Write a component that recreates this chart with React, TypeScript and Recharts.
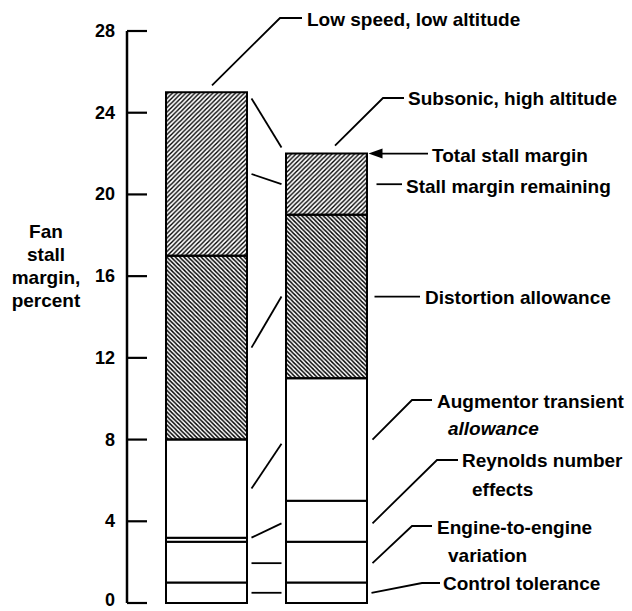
import React from "react";
import { BarChart, Bar, XAxis, YAxis } from "recharts";

const categories = ["Low speed, low altitude", "Subsonic, high altitude"];
const controlTolerance = [1, 1];
const engineVariation = [2, 2];
const reynoldsEffects = [0.2, 2];
const augmentorAllowance = [4.8, 6];
const distortionAllowance = [9, 8];
const stallMarginRemaining = [8, 3];
const yTicks = [0, 4, 8, 12, 16, 20, 24, 28];

const data = categories.map((c, i) => ({
  name: c,
  control: controlTolerance[i],
  engine: engineVariation[i],
  reynolds: reynoldsEffects[i],
  augmentor: augmentorAllowance[i],
  distortion: distortionAllowance[i],
  remaining: stallMarginRemaining[i],
}));

const W = 632;
const H = 611;
const TOP = 31;
const BOTTOM = 603;
const LEFT = 127;
const RIGHT = 487;
const YW = 40;
const PAD_L = 19;
const PAD_R = 101;
const BAND = (RIGHT - LEFT - PAD_L - PAD_R) / 2;
const BAR = 81;
const YMAX = 28;
const FONT = "'Liberation Sans', Arial, Helvetica, sans-serif";

const yPx = (v: number) => BOTTOM - (v / YMAX) * (BOTTOM - TOP);
const cx = (i: number) => LEFT + PAD_L + BAND * (i + 0.5);
const L1R = cx(0) + BAR / 2;
const R2L = cx(1) - BAR / 2;
const R2R = cx(1) + BAR / 2;

const YTick = (props: any) => {
  const { y, payload } = props;
  return (
    <g>
      <line x1={LEFT} x2={LEFT + 20} y1={y} y2={y} stroke="#000" strokeWidth={2.2} />
      <text
        x={LEFT - 12}
        y={Math.min(y + 6, H - 5)}
        textAnchor="end"
        fontFamily={FONT}
        fontWeight="bold"
        fontSize={18}
        fill="#000"
      >
        {payload.value}
      </text>
    </g>
  );
};

const T = (p: { x: number; y: number; children: React.ReactNode; italic?: boolean; anchor?: string }) => (
  <text
    x={p.x}
    y={p.y}
    textAnchor={(p.anchor as any) || "start"}
    dominantBaseline="central"
    fontFamily={FONT}
    fontWeight="bold"
    fontStyle={p.italic ? "italic" : "normal"}
    fontSize={19}
    fill="#000"
  >
    {p.children}
  </text>
);

const Pl = ({ pts }: { pts: number[][] }) => (
  <polyline
    points={pts.map((p) => p.join(",")).join(" ")}
    fill="none"
    stroke="#000"
    strokeWidth={1.8}
  />
);

const Overlay = () => {
  const bx1 = L1R + 5;
  const bx2 = R2L - 4;
  const rx = R2R + 6;
  return (
    <svg
      width={W}
      height={H}
      style={{ position: "absolute", left: 0, top: 0, pointerEvents: "none" }}
    >
      {/* between bars */}
      <Pl pts={[[bx1, yPx(24.7)], [bx2, yPx(22.3)]]} />
      <Pl pts={[[bx1, yPx(21)], [bx2, yPx(20.5)]]} />
      <Pl pts={[[bx1, yPx(12.5)], [bx2, yPx(15)]]} />
      <Pl pts={[[bx1, yPx(5.6)], [bx2, yPx(7.8)]]} />
      <Pl pts={[[bx1, yPx(3.2)], [bx2, yPx(3.9)]]} />
      <Pl pts={[[bx1, yPx(1.95)], [bx2, yPx(1.95)]]} />
      <Pl pts={[[bx1, yPx(0.5)], [bx2, yPx(0.5)]]} />

      {/* top labels */}
      <Pl pts={[[cx(0) + 6, yPx(25) - 7], [280, 18], [302, 18]]} />
      <T x={307} y={19}>Low speed, low altitude</T>
      <Pl pts={[[cx(1) + 9, yPx(22) - 8], [383, 98], [404, 98]]} />
      <T x={408} y={98}>Subsonic, high altitude</T>

      {/* right labels */}
      <line x1={428} y1={yPx(22)} x2={R2R + 14} y2={yPx(22)} stroke="#000" strokeWidth={1.8} />
      <path d={`M${R2R + 2},${yPx(22)} l14,-5 l0,10 Z`} fill="#000" />
      <T x={432} y={155}>Total stall margin</T>

      <Pl pts={[[rx + 4, yPx(20.5)], [402, yPx(20.5)]]} />
      <T x={406} y={186}>Stall margin remaining</T>

      <Pl pts={[[rx + 2, yPx(15)], [420, yPx(15)]]} />
      <T x={425} y={297}>Distortion allowance</T>

      <Pl pts={[[rx, yPx(8)], [412, 400], [432, 400]]} />
      <T x={437} y={401}>Augmentor transient</T>
      <T x={448} y={428} italic>allowance</T>

      <Pl pts={[[rx, yPx(3.9)], [437, 460], [458, 460]]} />
      <T x={462} y={460}>Reynolds number</T>
      <T x={472} y={489}>effects</T>

      <Pl pts={[[rx, yPx(1.95)], [412, 526], [432, 526]]} />
      <T x={437} y={527}>Engine-to-engine</T>
      <T x={448} y={555}>variation</T>

      <Pl pts={[[rx - 1, yPx(0.5)], [422, 583], [440, 583]]} />
      <T x={443} y={583}>Control tolerance</T>

      {/* y axis title */}
      <T x={46} y={231} anchor="middle">Fan</T>
      <T x={46} y={254} anchor="middle">stall</T>
      <T x={46} y={277} anchor="middle">margin,</T>
      <T x={46} y={300} anchor="middle">percent</T>
    </svg>
  );
};

export default function App() {
  const barProps = { stackId: "s", stroke: "#000", strokeWidth: 2, isAnimationActive: false, barSize: BAR };
  return (
    <div style={{ position: "absolute", left: 0, top: 0, width: W, height: H, background: "#fff" }}>
      <BarChart
        width={W}
        height={H}
        data={data}
        margin={{ top: TOP, bottom: H - BOTTOM, left: LEFT - YW, right: W - RIGHT }}
      >
        <defs>
          <pattern id="hatchFwd" patternUnits="userSpaceOnUse" width="4.5" height="4.5">
            <path d="M-1,1 l2,-2 M0,4.5 l4.5,-4.5 M3.5,5.5 l2,-2" stroke="#000" strokeWidth="1.4" />
          </pattern>
          <pattern id="hatchBack" patternUnits="userSpaceOnUse" width="4.3" height="4.3">
            <path d="M-1,3.3 l2,2 M0,0 l4.3,4.3 M3.3,-1 l2,2" stroke="#000" strokeWidth="1.4" />
          </pattern>
        </defs>
        <XAxis
          dataKey="name"
          type="category"
          tick={false}
          tickLine={false}
          height={0}
          padding={{ left: PAD_L, right: PAD_R }}
          axisLine={{ stroke: "#000", strokeWidth: 2.5 }}
        />
        <YAxis
          type="number"
          domain={[0, YMAX]}
          ticks={yTicks}
          interval={0}
          width={YW}
          tick={<YTick />}
          tickLine={false}
          axisLine={{ stroke: "#000", strokeWidth: 2.5 }}
        />
        <Bar dataKey="control" fill="#fff" {...barProps} />
        <Bar dataKey="engine" fill="#fff" {...barProps} />
        <Bar dataKey="reynolds" fill="#fff" {...barProps} />
        <Bar dataKey="augmentor" fill="#fff" {...barProps} />
        <Bar dataKey="distortion" fill="url(#hatchBack)" {...barProps} />
        <Bar dataKey="remaining" fill="url(#hatchFwd)" {...barProps} />
      </BarChart>
      <Overlay />
    </div>
  );
}
